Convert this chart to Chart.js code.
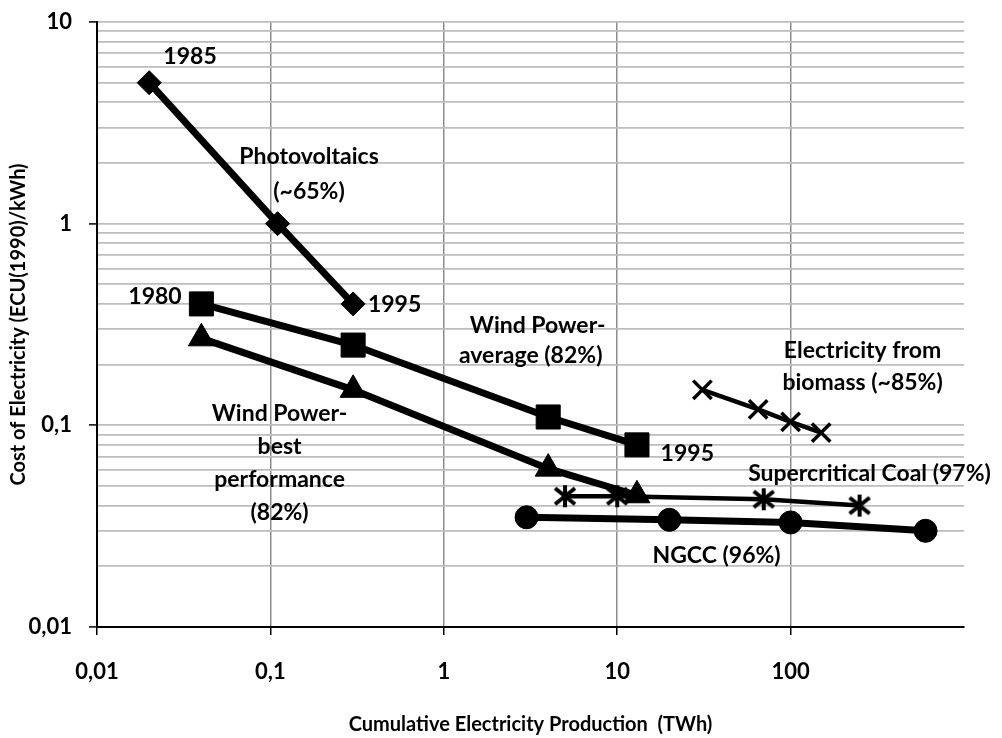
<!DOCTYPE html>
<html>
<head>
<meta charset="utf-8">
<script src="https://cdn.jsdelivr.net/npm/chart.js@4/dist/chart.umd.min.js"></script>
<style>
  html, body { margin: 0; padding: 0; background: #ffffff; }
  #wrap { width: 1002px; height: 738px; }
</style>
</head>
<body>
<div id="wrap"><canvas id="chart" width="1002" height="738"></canvas></div>
<script>
// Learning curves: cost of electricity vs cumulative production (log-log)
const pvX = [0.02, 0.11, 0.3];
const pvY = [5, 1, 0.4];

const windAvgX = [0.04, 0.3, 4, 13];
const windAvgY = [0.4, 0.25, 0.11, 0.08];

const windBestX = [0.04, 0.3, 4, 13];
const windBestY = [0.27, 0.15, 0.061, 0.045];

const coalX = [5, 10, 70, 250];
const coalY = [0.0445, 0.0445, 0.043, 0.04];

const ngccX = [3, 20, 100, 600];
const ngccY = [0.035, 0.034, 0.033, 0.03];

const bioX = [31, 65, 100, 150];
const bioY = [0.15, 0.12, 0.104, 0.092];

const xTickValues = [0.01, 0.1, 1, 10, 100, 1000];
const xTickLabels = ['0,01', '0,1', '1', '10', '100', ''];
const yTickValues = [0.01, 0.1, 1, 10];
const yTickLabels = ['0,01', '0,1', '1', '10'];

// Text annotations placed in data space
const notes = [
  { text: '1985', x: 0.0344, y: 6.7, align: 'center' },
  { text: 'Photovoltaics', x: 0.167, y: 2.14, align: 'center' },
  { text: '(~65%)', x: 0.167, y: 1.45, align: 'center' },
  { text: '1980', x: 0.0216, y: 0.436, align: 'center' },
  { text: '1995', x: 0.365, y: 0.399, align: 'left' },
  { text: 'Wind Power-', x: 3.48, y: 0.313, align: 'center' },
  { text: 'average (82%)', x: 3.17, y: 0.222, align: 'center' },
  { text: 'Wind Power-', x: 0.113, y: 0.1148, align: 'center' },
  { text: 'best', x: 0.113, y: 0.0787, align: 'center' },
  { text: 'performance', x: 0.113, y: 0.054, align: 'center' },
  { text: '(82%)', x: 0.113, y: 0.037, align: 'center' },
  { text: '1995', x: 17.8, y: 0.0726, align: 'left' },
  { text: 'Electricity from', x: 260, y: 0.2355, align: 'center' },
  { text: 'biomass (~85%)', x: 260, y: 0.163, align: 'center' },
  { text: 'Supercritical Coal (97%)', x: 285, y: 0.0578, align: 'center' },
  { text: 'NGCC (96%)', x: 37.4, y: 0.0226, align: 'center' }
];

const FONT = 'Lato, "Open Sans", sans-serif';

function pts(xs, ys) { return xs.map((x, i) => ({ x: x, y: ys[i] })); }

// asterisk marker (X with a vertical stroke)
function asterisk() {
  const c = document.createElement('canvas');
  c.width = 26; c.height = 26;
  const g = c.getContext('2d');
  g.strokeStyle = '#000';
  g.lineWidth = 4;
  g.beginPath();
  g.moveTo(3, 5); g.lineTo(23, 21);
  g.moveTo(23, 5); g.lineTo(3, 21);
  g.moveTo(13, 2); g.lineTo(13, 24);
  g.stroke();
  return c;
}

const isDecade = v => yTickValues.some(d => Math.abs(d - v) / d < 1e-6);

const notesPlugin = {
  id: 'notes',
  afterDatasetsDraw(chart) {
    const ctx = chart.ctx;
    const xs = chart.scales.x, ys = chart.scales.y;
    ctx.save();
    ctx.fillStyle = '#000';
    ctx.font = 'bold 23px ' + FONT;
    ctx.textBaseline = 'middle';
    notes.forEach(n => {
      ctx.textAlign = n.align;
      ctx.fillText(n.text, xs.getPixelForValue(n.x), ys.getPixelForValue(n.y));
    });
    ctx.restore();
  }
};

const common = {
  showLine: true,
  borderColor: '#000',
  backgroundColor: '#000',
  pointBackgroundColor: '#000',
  pointBorderColor: '#000',
  pointHoverRadius: 0
};

new Chart(document.getElementById('chart'), {
  type: 'scatter',
  data: {
    datasets: [
      Object.assign({}, common, { label: 'Photovoltaics', data: pts(pvX, pvY), borderWidth: 7,
        pointStyle: 'rectRot', pointRadius: 12, pointBorderWidth: 1 }),
      Object.assign({}, common, { label: 'Wind Power - average', data: pts(windAvgX, windAvgY), borderWidth: 7,
        pointStyle: 'rect', pointRadius: 17, pointBorderWidth: 1 }),
      Object.assign({}, common, { label: 'Wind Power - best performance', data: pts(windBestX, windBestY), borderWidth: 7,
        pointStyle: 'triangle', pointRadius: 15, pointBorderWidth: 1 }),
      Object.assign({}, common, { label: 'Supercritical Coal', data: pts(coalX, coalY), borderWidth: 4.5,
        pointStyle: asterisk(), pointRadius: 13 }),
      Object.assign({}, common, { label: 'NGCC', data: pts(ngccX, ngccY), borderWidth: 7,
        pointStyle: 'circle', pointRadius: 11.5, pointBorderWidth: 1 }),
      Object.assign({}, common, { label: 'Electricity from biomass', data: pts(bioX, bioY), borderWidth: 4.5,
        pointStyle: 'crossRot', pointRadius: 13, pointBorderWidth: 3.5 })
    ]
  },
  options: {
    responsive: false,
    animation: false,
    devicePixelRatio: 1,
    layout: { padding: { left: 0, top: 22, right: 38, bottom: 0 } },
    plugins: { legend: { display: false }, tooltip: { enabled: false } },
    events: [],
    scales: {
      x: {
        type: 'logarithmic',
        min: 0.01, max: 1000,
        afterBuildTicks: s => { s.ticks = xTickValues.map(v => ({ value: v, major: true })); },
        afterFit: s => { s.height = 111; },
        ticks: {
          autoSkip: false, maxRotation: 0, padding: 24,
          color: '#000', font: { family: FONT, size: 22, weight: 'bold' },
          callback: (v, i) => xTickLabels[i]
        },
        grid: {
          color: c => (c.tick && c.tick.value === 1000) ? 'rgba(0,0,0,0)' : '#8c8c8c',
          lineWidth: 1.5,
          tickLength: 8,
          tickColor: c => (c.tick && c.tick.value === 1000) ? 'rgba(0,0,0,0)' : '#000',
          tickWidth: 1.5
        },
        border: { display: true, color: '#000', width: 2 },
        title: {
          display: true, text: 'Cumulative Electricity Production  (TWh)',
          color: '#000', font: { family: FONT, size: 20, weight: 'bold' },
          padding: { top: 0, bottom: 1 }
        }
      },
      y: {
        type: 'logarithmic',
        min: 0.01, max: 10,
        afterBuildTicks: s => {
          const t = [];
          for (let k = 0; k < yTickValues.length; k++) {
            const d = yTickValues[k];
            t.push({ value: d, major: true });
            if (k < yTickValues.length - 1) {
              for (let m = 2; m <= 9; m++) t.push({ value: +(m * d).toPrecision(6), major: false });
            }
          }
          s.ticks = t;
        },
        afterFit: s => { s.width = 97; s.paddingTop = 0; s.paddingBottom = 0; },
        ticks: {
          autoSkip: false, padding: 17,
          color: '#000', font: { family: FONT, size: 22, weight: 'bold' },
          callback: v => {
            const i = yTickValues.findIndex(d => Math.abs(d - v) / d < 1e-6);
            return i >= 0 ? yTickLabels[i] : '';
          }
        },
        grid: {
          color: '#bdbdbd',
          lineWidth: 1.8,
          tickLength: 8,
          tickColor: c => (c.tick && isDecade(c.tick.value)) ? '#000' : 'rgba(0,0,0,0)',
          tickWidth: 1.5
        },
        border: { display: true, color: '#000', width: 2 },
        title: {
          display: true, text: 'Cost of Electricity (ECU(1990)/kWh)',
          color: '#000', font: { family: FONT, size: 20, weight: 'bold' },
          padding: { top: 7, bottom: 0 }
        }
      }
    }
  },
  plugins: [notesPlugin]
});
</script>
</body>
</html>
